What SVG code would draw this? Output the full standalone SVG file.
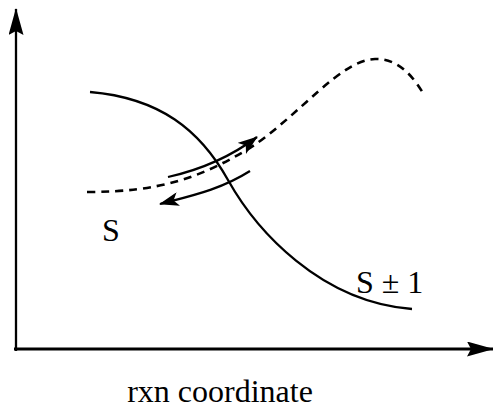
<svg xmlns="http://www.w3.org/2000/svg" width="493" height="410" viewBox="0 0 493 410">
<style>
.c{fill:none;stroke:#000;stroke-width:2.3}
.d{stroke-dasharray:8,6;stroke-width:2.6}
.t{font-family:"Liberation Serif",serif;fill:#000}
</style>
<defs>
<marker id="ah" markerUnits="userSpaceOnUse" markerWidth="22" markerHeight="14" refX="19" refY="7" orient="auto" viewBox="0 0 22 14">
<path d="M0,0 L20,7 L0,14 L5,7 Z" fill="#000"/>
</marker>
<marker id="ax" markerUnits="userSpaceOnUse" markerWidth="28" markerHeight="15" refX="26" refY="7.5" orient="auto" viewBox="0 0 28 15">
<path d="M0,0 L27,7.5 L0,15 L4,7.5 Z" fill="#000"/>
</marker>
</defs>
<g id="axes">
<line x1="16" y1="351" x2="16" y2="9" stroke="#000" stroke-width="2.3" marker-end="url(#ax)"/>
<line x1="14" y1="349" x2="493" y2="349" stroke="#000" stroke-width="3" marker-end="url(#ax)"/>
</g>
<g id="curve-s1">
<path class="c" d="M90,92 C160,98 200,130 228,180 S320,302 412,309"/>
</g>
<g id="curve-s">
<path class="c d" d="M87,192 C160,192 200,178 250,148 C300,115 340,60 375,59 C400,58 415,80 423,93"/>
</g>
<g id="connectors">
<path class="c" d="M168,177 C195,171 225,161 257,137" marker-end="url(#ah)"/>
<path class="c" d="M250,171 C220,190 190,196 160,204" marker-end="url(#ah)"/>
</g>
<g id="labels">
<text class="t" x="102" y="241" font-size="32">S</text>
<text class="t" x="356" y="293" font-size="32">S ± 1</text>
<text class="t" x="220" y="402" font-size="32" text-anchor="middle">rxn coordinate</text>
</g>
</svg>
